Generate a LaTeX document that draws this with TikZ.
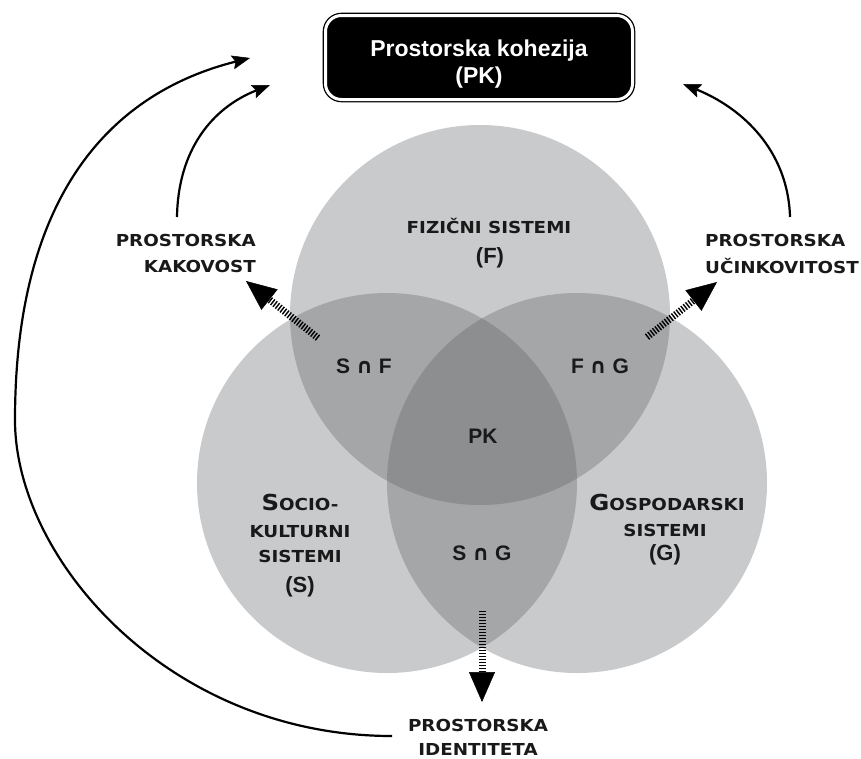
\documentclass[tikz,border=0pt]{standalone}
\usepackage{fontspec}
\setmainfont{Liberation Sans}
\newfontfamily\labfont{DejaVu Sans}[FakeStretch=1.11]
\newfontfamily\symfont{DejaVu Sans}
\usetikzlibrary{arrows.meta}
\definecolor{cLight}{RGB}{201,202,204}
\definecolor{cMid}{RGB}{165,166,168}
\definecolor{cDark}{RGB}{141,142,144}
\newcommand\lsc{\labfont\bfseries\fontsize{16.5}{27}\selectfont}
\newcommand\lbig[1]{{\fontsize{22}{27}\selectfont #1}}
\newcommand\isect{{\symfont\fontsize{21}{24}\selectfont ∩}}
\tikzset{
  titlebox/.style={draw=black, double=white, double distance=3pt, line width=1.3pt,
    fill=black, rounded corners=16pt, minimum width=307pt, minimum height=84pt,
    text=white, align=center, font=\bfseries\fontsize{23}{27.5}\selectfont, inner sep=0pt},
  lab/.style={inner sep=0pt, font=\lsc, text=black!90},
  paren/.style={inner sep=0pt, font=\bfseries\fontsize{22}{24}\selectfont, text=black!90},
  setlab/.style={inner sep=0pt, anchor=base, font=\bfseries\fontsize{21}{24}\selectfont, text=black!90},
  hatch/.style={line width=7pt, dash pattern=on 1.4pt off 1.6pt,
    -{Triangle[length=30pt, width=26pt, line width=0.5pt]}},
  flow/.style={line width=2.2pt, -{Stealth[length=18pt, width=14pt, inset=3pt, line width=0.5pt]}}
}
\begin{document}
\begin{tikzpicture}[x=1pt, y=-1pt]
\useasboundingbox (0,0) rectangle (861,758);
% circle centres
\coordinate (cF) at (480,315);
\coordinate (cS) at (387,483);
\coordinate (cG) at (577,483);
\def\R{190}
% base fills
\fill[cLight] (cF) circle (\R);
\fill[cLight] (cS) circle (\R);
\fill[cLight] (cG) circle (\R);
% pairwise overlaps
\begin{scope}\clip (cS) circle (\R); \fill[cMid] (cF) circle (\R); \end{scope}
\begin{scope}\clip (cS) circle (\R); \fill[cMid] (cG) circle (\R); \end{scope}
\begin{scope}\clip (cF) circle (\R); \fill[cMid] (cG) circle (\R); \end{scope}
% triple overlap
\begin{scope}\clip (cS) circle (\R); \clip (cF) circle (\R); \fill[cDark] (cG) circle (\R); \end{scope}

% title
\node[titlebox] (pk) at (479,57.5) {\raisebox{-13pt}[0pt][0pt]{\begin{tabular}{@{}c@{}}Prostorska kohezija\\(PK)\end{tabular}}};

% circle labels
\node[lab, anchor=base] (fl1) at (489,233) {FIZIČNI SISTEMI};
\node[paren] (fl2) at (490,258) {(F)};
\node[lab, anchor=base] (sl1) at (300,510) {\lbig{S}OCIO-};
\node[lab, anchor=base] (sl2) at (300,537) {KULTURNI};
\node[lab, anchor=base] (sl3) at (300,562) {SISTEMI};
\node[paren] (sl4) at (300,587) {(S)};
\node[lab, anchor=base] (gl1) at (667,510) {\lbig{G}OSPODARSKI};
\node[lab, anchor=base] (gl2) at (665,536) {SISTEMI};
\node[paren] (gl3) at (665,555) {(G)};

% intersection labels
\node[setlab] (sf) at (364,373) {S \isect{} F};
\node[setlab] (fg) at (600,373) {F \isect{} G};
\node[setlab] (pkc) at (483,443) {PK};
\node[setlab] (sg) at (482,560) {S \isect{} G};

% outcome labels
\node[lab, anchor=base east] (kak1) at (256,246) {PROSTORSKA};
\node[lab, anchor=base east] (kak2) at (256,272) {KAKOVOST};
\node[lab, anchor=base west] (uci1) at (705,246) {PROSTORSKA};
\node[lab, anchor=base west] (uci2) at (705,273) {UČINKOVITOST};
\node[lab, anchor=base] (ide1) at (478,731) {PROSTORSKA};
\node[lab, anchor=base] (ide2) at (478,755) {IDENTITETA};

% hatched arrows
\coordinate (h1s) at (318,338); \coordinate (h1e) at (246,281);
\coordinate (h2s) at (647,337); \coordinate (h2e) at (717,282);
\coordinate (h3s) at (482,611); \coordinate (h3e) at (482,702);
\draw[hatch] (h1s) -- (h1e);
\draw[hatch] (h2s) -- (h2e);
\draw[hatch] (h3s) -- (h3e);

% flow arrows to the title
\coordinate (a1s) at (392,736); \coordinate (a1m) at (15,420); \coordinate (a1e) at (250,58);
\coordinate (a2s) at (177,217); \coordinate (a2e) at (270,85);
\coordinate (a3s) at (790,217); \coordinate (a3e) at (683,84);
\draw[flow] (a1s) .. controls (170,736) and (15,560) .. (a1m)
               .. controls (15,190) and (115,92) .. (a1e);
\draw[flow] (a2s) .. controls (178,150) and (212,108) .. (a2e);
\draw[flow] (a3s) .. controls (788,150) and (742,108) .. (a3e);
\end{tikzpicture}
\end{document}
